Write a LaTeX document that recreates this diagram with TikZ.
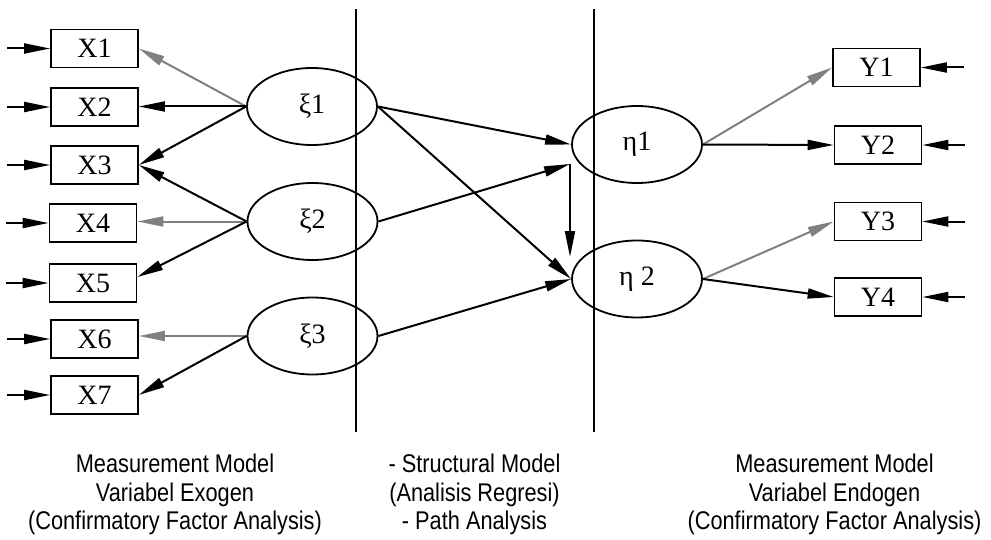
\documentclass[tikz,border=0pt]{standalone}
\usepackage{fontspec}
\setmainfont{Liberation Serif}
\newfontfamily\capfont[FakeStretch=0.85]{Liberation Sans}
\usetikzlibrary{arrows.meta,shapes.geometric}
\definecolor{lgray}{RGB}{128,128,128}
\begin{document}
\begin{tikzpicture}[x=0.5pt,y=-0.5pt,
  obs/.style={draw, line width=0.85pt, minimum width=43.5pt, minimum height=19pt,
    inner sep=0pt, font=\fontsize{14}{14}\selectfont},
  lat/.style={draw, ellipse, line width=0.9pt, minimum width=65pt, minimum height=38.5pt,
    inner sep=0pt, font=\fontsize{14}{14}\selectfont},
  ld/.style={-{Triangle[length=13pt,width=5pt]}, line width=1pt},
  ldg/.style={ld, draw=lgray},
  sep/.style={line width=0.9pt},
  captext/.style={font=\capfont\fontsize{12.8}{14.25}\selectfont, align=center,
    anchor=north, inner sep=0pt}]
\useasboundingbox (0,0) rectangle (991,540);

% indicators of the exogenous variables
\node[obs] (x1) at (94.5,48.5) {X1};
\node[obs] (x2) at (94.5,107) {X2};
\node[obs] (x3) at (94.5,165) {X3};
\node[obs] (x4) at (93,223) {X4};
\node[obs] (x5) at (93,283) {X5};
\node[obs] (x6) at (94.5,339) {X6};
\node[obs] (x7) at (94.5,395) {X7};

% indicators of the endogenous variables
\node[obs] (y1) at (876.5,67.5) {Y1};
\node[obs] (y2) at (878,145) {Y2};
\node[obs] (y3) at (878,221.5) {Y3};
\node[obs] (y4) at (878,297) {Y4};

% latent variables
\node[lat] (xi1) at (312,106.5) {ξ1};
\node[lat] (xi2) at (312.5,221.5) {ξ2};
\node[lat] (xi3) at (312.5,336) {ξ3};
\node[lat] (eta1) at (637,144.5) {η1};
\node[lat] (eta2) at (637,279) {η 2};

% section separators
\coordinate (v1t) at (356,9);  \coordinate (v1b) at (356,432);
\coordinate (v2t) at (594,9);  \coordinate (v2b) at (594,432);
\draw[sep] (v1t) -- (v1b);
\draw[sep] (v2t) -- (v2b);

% error terms
\foreach \n in {1,...,7}{
  \coordinate (ex\n) at ([xshift=-21.5pt]x\n.west);
  \draw[ld] (ex\n) -- (x\n.west);
}
\foreach \n in {1,...,4}{
  \coordinate (ey\n) at ([xshift=21.5pt]y\n.east);
  \draw[ld] (ey\n) -- (y\n.east);
}

% loadings, exogenous side
\draw[ldg] (xi1.west) -- (x1.east);
\draw[ld]  (xi1.west) -- (xi1.west -| x2.east);
\draw[ld]  (xi1.west) -- (x3.east);
\draw[ld]  (xi2.west) -- (x3.east);
\draw[ldg] (xi2.west) -- (xi2.west -| x4.east);
\draw[ld]  (xi2.west) -- ([yshift=3pt]x5.east);
\draw[ldg] (xi3.west) -- (xi3.west -| x6.east);
\draw[ld]  (xi3.west) -- (x7.east);

% structural paths
\coordinate (in1) at (570,164);
\coordinate (in2) at (570,257);
\draw[ld] (xi1.east) -- (eta1.west);
\draw[ld] (xi1.east) -- (eta2.west);
\draw[ld] (xi2.east) -- (in1);
\draw[ld] (in1) -- (in2);
\draw[ld] (xi3.east) -- (eta2.west);

% loadings, endogenous side
\draw[ldg] (eta1.east) -- (y1.west);
\draw[ld]  (eta1.east) -- (y2.west);
\draw[ldg] (eta2.east) -- (y3.west);
\draw[ld]  (eta2.east) -- (y4.west);

% captions
\node[captext] (c1) at (175,454) {Measurement Model\\Variabel Exogen\\(Confirmatory Factor Analysis)};
\node[captext] (c2) at (474.5,454) {- Structural Model\\(Analisis Regresi)\\- Path Analysis};
\node[captext] (c3) at (834.5,454) {Measurement Model\\Variabel Endogen\\(Confirmatory Factor Analysis)};
\end{tikzpicture}
\end{document}
